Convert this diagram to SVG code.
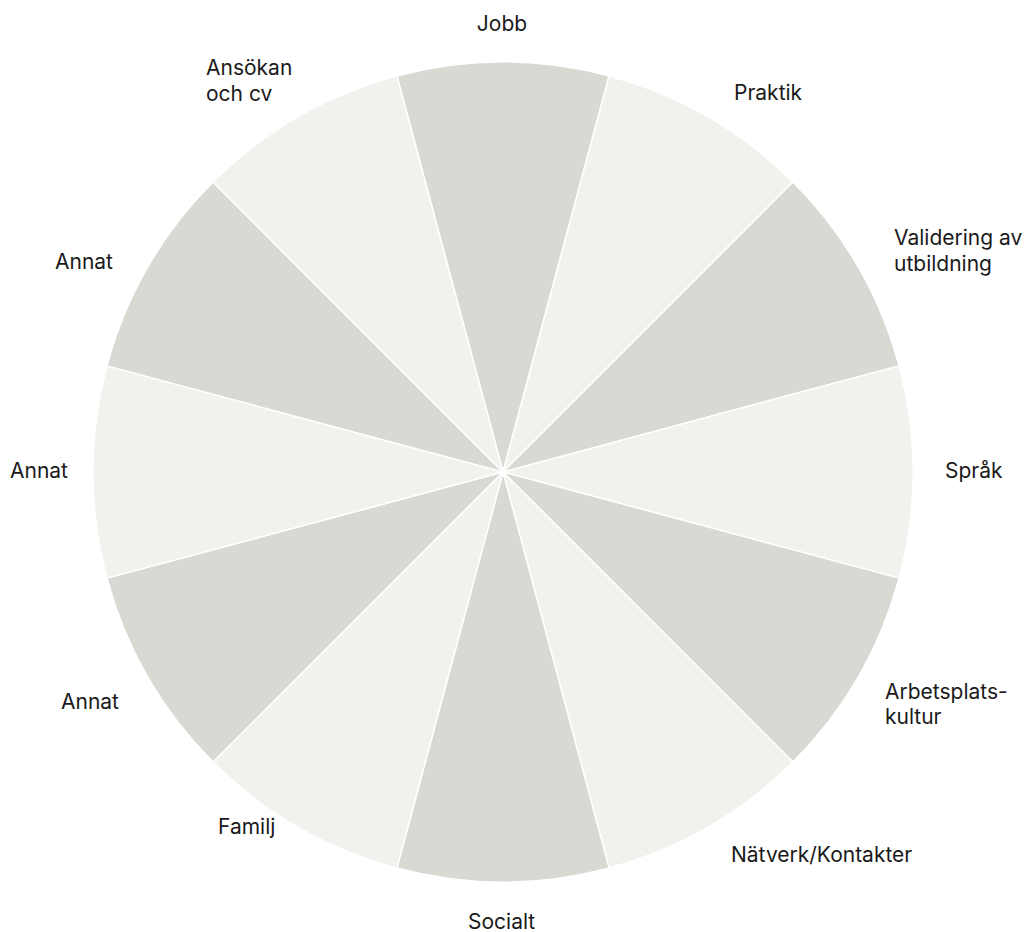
<svg xmlns="http://www.w3.org/2000/svg" width="1026" height="932" viewBox="0 0 1026 932">
<style>
.d{fill:#d9d8d3;stroke:#ffffff;stroke-width:1.5;stroke-linejoin:round}
.l{fill:#f2f1ed;stroke:#ffffff;stroke-width:1.5;stroke-linejoin:round}
text{font-family:Inter,"Noto Sans","Liberation Sans",sans-serif;font-size:21px;fill:#1a1a1a}
</style>
<rect width="1026" height="932" fill="#ffffff"/>
<g id="jobb"><path class="d" d="M503 472 L396.88 75.97 A410 410 0 0 1 609.12 75.97 Z"/><text x="502" y="31" text-anchor="middle">Jobb</text></g>
<g id="praktik"><path class="l" d="M503 472 L609.12 75.97 A410 410 0 0 1 792.91 182.09 Z"/><text x="734" y="100">Praktik</text></g>
<g id="validering"><path class="d" d="M503 472 L792.91 182.09 A410 410 0 0 1 899.03 365.88 Z"/><text x="894" y="245">Validering av</text><text x="894" y="271">utbildning</text></g>
<g id="sprak"><path class="l" d="M503 472 L899.03 365.88 A410 410 0 0 1 899.03 578.12 Z"/><text x="945" y="478">Språk</text></g>
<g id="arbetsplatskultur"><path class="d" d="M503 472 L899.03 578.12 A410 410 0 0 1 792.91 761.91 Z"/><text x="885" y="699">Arbetsplats-</text><text x="885" y="724">kultur</text></g>
<g id="natverk"><path class="l" d="M503 472 L792.91 761.91 A410 410 0 0 1 609.12 868.03 Z"/><text x="731" y="862">Nätverk/Kontakter</text></g>
<g id="socialt"><path class="d" d="M503 472 L609.12 868.03 A410 410 0 0 1 396.88 868.03 Z"/><text x="468" y="929">Socialt</text></g>
<g id="familj"><path class="l" d="M503 472 L396.88 868.03 A410 410 0 0 1 213.09 761.91 Z"/><text x="218" y="834">Familj</text></g>
<g id="annat-nedre"><path class="d" d="M503 472 L213.09 761.91 A410 410 0 0 1 106.97 578.12 Z"/><text x="61" y="709">Annat</text></g>
<g id="annat-mitt"><path class="l" d="M503 472 L106.97 578.12 A410 410 0 0 1 106.97 365.88 Z"/><text x="10" y="478">Annat</text></g>
<g id="annat-ovre"><path class="d" d="M503 472 L106.97 365.88 A410 410 0 0 1 213.09 182.09 Z"/><text x="55" y="269">Annat</text></g>
<g id="ansokan"><path class="l" d="M503 472 L213.09 182.09 A410 410 0 0 1 396.88 75.97 Z"/><text x="206" y="75">Ansökan</text><text x="206" y="101">och cv</text></g>
<g id="connectors"></g>
</svg>
